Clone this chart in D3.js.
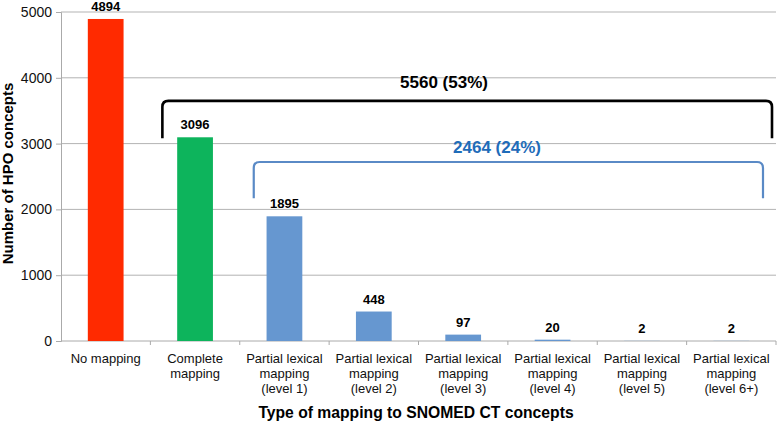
<!DOCTYPE html>
<html>
<head>
<meta charset="utf-8">
<script src="https://cdn.jsdelivr.net/npm/d3@7"></script>
<style>
  body { margin: 0; background: #fff; }
  svg { font-family: Arial, "Liberation Sans", sans-serif; }
</style>
</head>
<body>
<div class="chart"></div>
<script>
// data
var categories = ["No mapping", "Complete mapping", "Partial lexical mapping (level 1)",
    "Partial lexical mapping (level 2)", "Partial lexical mapping (level 3)",
    "Partial lexical mapping (level 4)", "Partial lexical mapping (level 5)",
    "Partial lexical mapping (level 6+)"];
var catLines = [["No mapping"], ["Complete", "mapping"],
    ["Partial lexical", "mapping", "(level 1)"], ["Partial lexical", "mapping", "(level 2)"],
    ["Partial lexical", "mapping", "(level 3)"], ["Partial lexical", "mapping", "(level 4)"],
    ["Partial lexical", "mapping", "(level 5)"], ["Partial lexical", "mapping", "(level 6+)"]];
var counts = [4894, 3096, 1895, 448, 97, 20, 2, 2];
var barColors = ["#ff2a00", "#0db45c", "#6697d0", "#6697d0", "#6697d0", "#6697d0", "#6697d0", "#6697d0"];
var yTicks = [0, 1000, 2000, 3000, 4000, 5000];
// brackets: label, first/last category, top and bottom in data units
var brackets = [
    { label: "5560 (53%)", from: 1, to: 7, top: 3650, bottom: 3080, color: "#000", text: "#000" },
    { label: "2464 (24%)", from: 2, to: 7, top: 2720, bottom: 2170, color: "#5a8ac6", text: "#1f6cb9" }
];

var W = 778, H = 430;
var margin = { top: 12, right: 2, bottom: 89, left: 61 };
var width = W - margin.left - margin.right, height = H - margin.top - margin.bottom;

var svg = d3.select(".chart").append("svg")
    .attr("width", W).attr("height", H)
    .append("g")
    .attr("transform", "translate(" + margin.left + "," + margin.top + ")");

var x = d3.scaleBand().domain(categories).range([0, width]).paddingInner(0.6).paddingOuter(0.3);
var xb = d3.scaleBand().domain(categories).range([0, width]); // full bands for ticks
var y = d3.scaleLinear().domain([0, 5000]).range([height, 0]);

// gridlines
svg.append("g").selectAll("line").data(yTicks.slice(1)).enter().append("line")
    .attr("x1", 0).attr("x2", width)
    .attr("y1", d => y(d)).attr("y2", d => y(d))
    .attr("stroke", "#b3b3b3").attr("stroke-width", 1);

// y axis
var yAxis = svg.append("g").call(d3.axisLeft(y).tickValues(yTicks).tickSize(5).tickPadding(4).tickFormat(d3.format("d")));
yAxis.select(".domain").attr("stroke", "#aaa");
yAxis.selectAll(".tick line").attr("stroke", "#aaa");
yAxis.selectAll("text").attr("font-size", 14).attr("fill", "#111");

// x axis
var xg = svg.append("g").attr("transform", "translate(0," + height + ")");
xg.append("line").attr("x1", 0).attr("x2", width).attr("stroke", "#aaa");
xg.selectAll(".tk").data(categories).enter().append("line")
    .attr("x1", d => xb(d) + xb.bandwidth()).attr("x2", d => xb(d) + xb.bandwidth())
    .attr("y1", 0).attr("y2", 4).attr("stroke", "#aaa");
catLines.forEach(function (lines, i) {
    var t = xg.append("text").attr("text-anchor", "middle").attr("font-size", 13).attr("fill", "#111")
        .attr("x", xb(categories[i]) + xb.bandwidth() / 2);
    lines.forEach(function (l, j) {
        t.append("tspan").attr("x", xb(categories[i]) + xb.bandwidth() / 2).attr("y", 22 + j * 15.2).text(l);
    });
});

// bars
svg.selectAll(".bar").data(counts).enter().append("rect")
    .attr("x", (d, i) => x(categories[i]))
    .attr("y", d => y(d))
    .attr("width", x.bandwidth())
    .attr("height", d => height - y(d))
    .attr("fill", (d, i) => barColors[i]);

svg.selectAll(".val").data(counts).enter().append("text")
    .attr("x", (d, i) => x(categories[i]) + x.bandwidth() / 2)
    .attr("y", d => y(d) - 8)
    .attr("text-anchor", "middle").attr("font-size", 13).attr("font-weight", "bold")
    .text(d => d);

// brackets
brackets.forEach(function (b, k) {
    var x0 = xb(categories[b.from]) + (k == 0 ? 12 : 14);
    var x1 = xb(categories[b.to]) + xb.bandwidth() - (k == 0 ? 4 : 13);
    var yt = y(b.top), yb = y(b.bottom), r = 6;
    var p = d3.path();
    p.moveTo(x0, yb);
    p.lineTo(x0, yt + r);
    p.quadraticCurveTo(x0, yt, x0 + r, yt);
    p.lineTo(x1 - r, yt);
    p.quadraticCurveTo(x1, yt, x1, yt + r);
    p.lineTo(x1, yb);
    svg.append("path").attr("d", p.toString()).attr("fill", "none")
        .attr("stroke", b.color).attr("stroke-width", k == 0 ? 2.6 : 2.2);
    svg.append("text").attr("x", k == 0 ? 383 : 436).attr("y", yt - (k == 0 ? 13 : 9))
        .attr("text-anchor", "middle").attr("font-size", 17).attr("font-weight", "bold")
        .attr("fill", b.text).text(b.label);
});

// axis titles
svg.append("text").attr("transform", "translate(-48," + (height / 2 - 3) + ") rotate(-90)")
    .attr("text-anchor", "middle").attr("font-size", 15).attr("font-weight", "bold")
    .text("Number of HPO concepts");
svg.append("text").attr("x", 355).attr("y", height + 77)
    .attr("text-anchor", "middle").attr("font-size", 15.7).attr("font-weight", "bold")
    .text("Type of mapping to SNOMED CT concepts");
</script>
</body>
</html>
